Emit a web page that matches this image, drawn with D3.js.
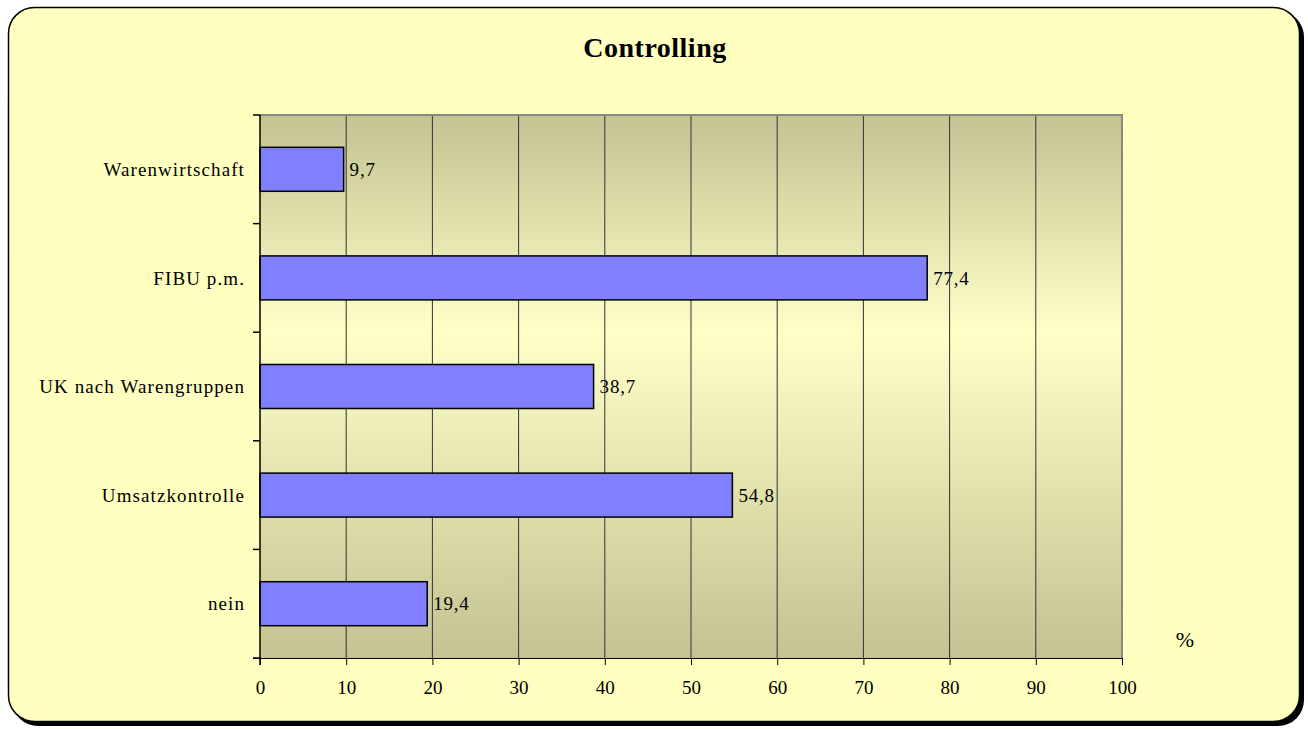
<!DOCTYPE html>
<html>
<head>
<meta charset="utf-8">
<script src="https://cdn.jsdelivr.net/npm/d3@7"></script>
<style>
  html, body { margin: 0; padding: 0; background: #ffffff; }
  svg text { font-family: "Liberation Serif", "Times New Roman", serif; }
</style>
</head>
<body>
<svg id="chart" width="1308" height="729"></svg>
<script>
// chart data
const categories = ['Warenwirtschaft', 'FIBU p.m.', 'UK nach Warengruppen', 'Umsatzkontrolle', 'nein'];
const values = [9.7, 77.4, 38.7, 54.8, 19.4];
const xTicks = [0, 10, 20, 30, 40, 50, 60, 70, 80, 90, 100];
const chartTitle = 'Controlling';
const unitLabel = '%';

const svg = d3.select('#chart');

// frame with shadow
svg.append('rect')
    .attr('x', 12).attr('y', 11)
    .attr('width', 1292).attr('height', 715)
    .attr('rx', 26).attr('ry', 26)
    .attr('fill', '#000');
svg.append('rect')
    .attr('x', 8.5).attr('y', 7.5)
    .attr('width', 1291).attr('height', 714)
    .attr('rx', 26).attr('ry', 26)
    .attr('fill', '#ffffc0')
    .attr('stroke', '#000').attr('stroke-width', 1.5);

svg.append('text')
    .attr('x', 655).attr('y', 57)
    .attr('text-anchor', 'middle')
    .attr('font-size', 28).attr('font-weight', 'bold')
    .attr('letter-spacing', 0.5)
    .text(chartTitle);

const plot = { left: 260, top: 115, right: 1122, bottom: 658 };

const x = d3.scaleLinear().domain([0, 100]).range([plot.left, plot.right]);
const y = d3.scaleBand().domain(categories).range([plot.top, plot.bottom]).paddingInner(0.595).paddingOuter(0.2975);
const yOuter = d3.scaleBand().domain(categories).range([plot.top, plot.bottom]);

// plot background gradient
const defs = svg.append('defs');
const grad = defs.append('linearGradient').attr('id', 'bg').attr('x1', 0).attr('y1', 0).attr('x2', 0).attr('y2', 1);
grad.append('stop').attr('offset', '0%').attr('stop-color', '#c3c393');
grad.append('stop').attr('offset', '40%').attr('stop-color', '#ffffc8');
grad.append('stop').attr('offset', '100%').attr('stop-color', '#c3c393');

svg.append('rect')
    .attr('x', plot.left).attr('y', plot.top)
    .attr('width', plot.right - plot.left).attr('height', plot.bottom - plot.top)
    .attr('fill', 'url(#bg)');

// gridlines
svg.append('g')
    .selectAll('line')
    .data(xTicks.filter(d => d > 0 && d < 100))
    .join('line')
    .attr('x1', d => x(d)).attr('x2', d => x(d))
    .attr('y1', plot.top).attr('y2', plot.bottom)
    .attr('stroke', '#333').attr('stroke-width', 1);

// top and right border of the plot
svg.append('path')
    .attr('d', `M${plot.left},${plot.top}H${plot.right}V${plot.bottom}`)
    .attr('fill', 'none').attr('stroke', '#888').attr('stroke-width', 2);

// bars
svg.append('g')
    .selectAll('rect')
    .data(categories)
    .join('rect')
    .attr('x', x(0))
    .attr('y', d => y(d))
    .attr('width', (d, i) => x(values[i]) - x(0))
    .attr('height', y.bandwidth())
    .attr('fill', '#8080ff')
    .attr('stroke', '#000').attr('stroke-width', 1.5);

// value labels
svg.append('g')
    .selectAll('text')
    .data(categories)
    .join('text')
    .attr('x', (d, i) => x(values[i]) + 6)
    .attr('y', d => y(d) + y.bandwidth() / 2)
    .attr('dy', '0.35em')
    .attr('font-size', 19)
    .attr('letter-spacing', 0.8)
    .text((d, i) => String(values[i]).replace('.', ','));

// x axis
const xAxis = svg.append('g')
    .attr('transform', `translate(0,${plot.bottom})`)
    .call(d3.axisBottom(x).tickValues(xTicks).tickSize(7).tickSizeOuter(0));
xAxis.select('.domain').attr('stroke', '#000').attr('d', `M${plot.left - 7},0.5H${plot.right}`);
xAxis.selectAll('.tick line').attr('stroke', '#000');
xAxis.selectAll('.tick text')
    .attr('y', 36).attr('dy', null)
    .attr('font-family', '"Liberation Serif", "Times New Roman", serif')
    .attr('font-size', 19).attr('fill', '#000');

// y axis with ticks between categories
const yAxisG = svg.append('g');
yAxisG.append('line')
    .attr('x1', plot.left).attr('x2', plot.left)
    .attr('y1', plot.top).attr('y2', plot.bottom + 7)
    .attr('stroke', '#000').attr('stroke-width', 1.5);
const boundaries = categories.map(c => yOuter(c)).concat([plot.bottom]);
yAxisG.selectAll('.ytick')
    .data(boundaries)
    .join('line')
    .attr('class', 'ytick')
    .attr('x1', plot.left - 7).attr('x2', plot.left)
    .attr('y1', d => d).attr('y2', d => d)
    .attr('stroke', '#000').attr('stroke-width', 1.5);
yAxisG.selectAll('.ylabel')
    .data(categories)
    .join('text')
    .attr('class', 'ylabel')
    .attr('x', plot.left - 15)
    .attr('y', d => yOuter(d) + yOuter.bandwidth() / 2)
    .attr('dy', '0.35em')
    .attr('text-anchor', 'end')
    .attr('font-size', 19)
    .attr('letter-spacing', 1.1)
    .text(d => d);

svg.append('text')
    .attr('x', 1185).attr('y', 647)
    .attr('text-anchor', 'middle')
    .attr('font-size', 22)
    .text(unitLabel);
</script>
</body>
</html>
